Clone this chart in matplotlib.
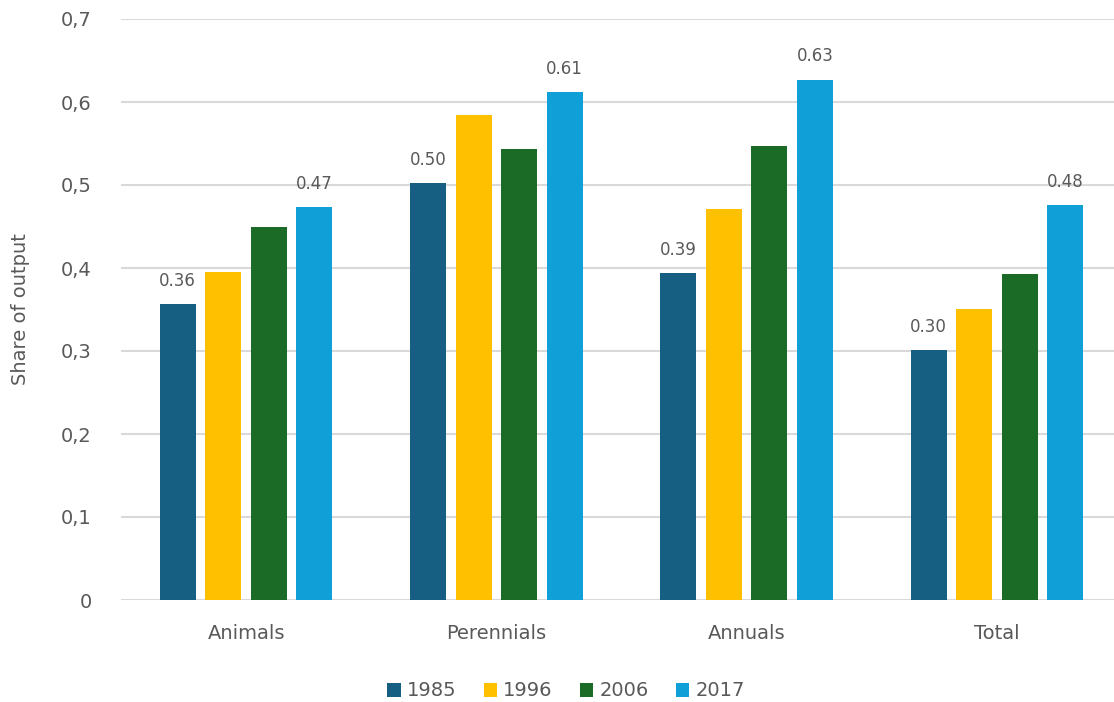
import matplotlib
matplotlib.use("Agg")
import matplotlib.pyplot as plt
import numpy as np

categories = ["Animals", "Perennials", "Annuals", "Total"]
years = ["1985", "1996", "2006", "2017"]
v1985 = [0.357, 0.502, 0.394, 0.301]
v1996 = [0.395, 0.584, 0.471, 0.351]
v2006 = [0.449, 0.543, 0.547, 0.393]
v2017 = [0.473, 0.612, 0.627, 0.476]
colors = ["#175f82", "#ffc000", "#1b6b27", "#119fd8"]
labelled = [True, False, False, True]
yticks = [0, 0.1, 0.2, 0.3, 0.4, 0.5, 0.6, 0.7]
yticklabels = ["0", "0,1", "0,2", "0,3", "0,4", "0,5", "0,6", "0,7"]

plt.rcParams['font.family'] = ['DejaVu Sans']
txt = "#595959"

fig = plt.figure(figsize=(11.14, 7.02), dpi=100)
ax = fig.add_axes([121/1114, 1-600/702, (1114-121)/1114, (600-19)/702])

x = np.arange(len(categories))
step = 0.182
width = 0.144
series = [v1985, v1996, v2006, v2017]
for i, (vals, c, yr) in enumerate(zip(series, colors, years)):
    pos = x + (i - 1.5) * step
    ax.bar(pos, vals, width=width, color=c, label=yr, zorder=3)
    if labelled[i]:
        for p, v in zip(pos, vals):
            ax.text(p, v + 0.017, f"{v:.2f}", ha="center", va="bottom",
                    fontsize=12, color=txt, zorder=4)

ax.set_xlim(-0.5, 3.5 - 8/250)
ax.set_ylim(0, 0.7)
ax.set_yticks(yticks)
ax.set_yticklabels(yticklabels)
ax.set_xticks(x)
ax.set_xticklabels(categories)
ax.tick_params(axis='both', length=0, labelsize=14, labelcolor=txt)
ax.tick_params(axis='y', pad=21)
ax.tick_params(axis='x', pad=17)
ax.yaxis.grid(True, color="#d9d9d9", linewidth=1.5, zorder=0)
ax.set_axisbelow(True)
for s in ax.spines.values():
    s.set_visible(False)
ax.set_ylabel("Share of output", fontsize=14, color=txt, labelpad=22)

fig.legend(*ax.get_legend_handles_labels(), loc="center",
           bbox_to_anchor=(566/1114, 1-691/702), ncol=4,
           frameon=False, fontsize=14, handlelength=0.7, handleheight=0.7,
           handletextpad=0.3, columnspacing=1.4, labelcolor=txt)

fig.savefig("out.png", dpi=100)
